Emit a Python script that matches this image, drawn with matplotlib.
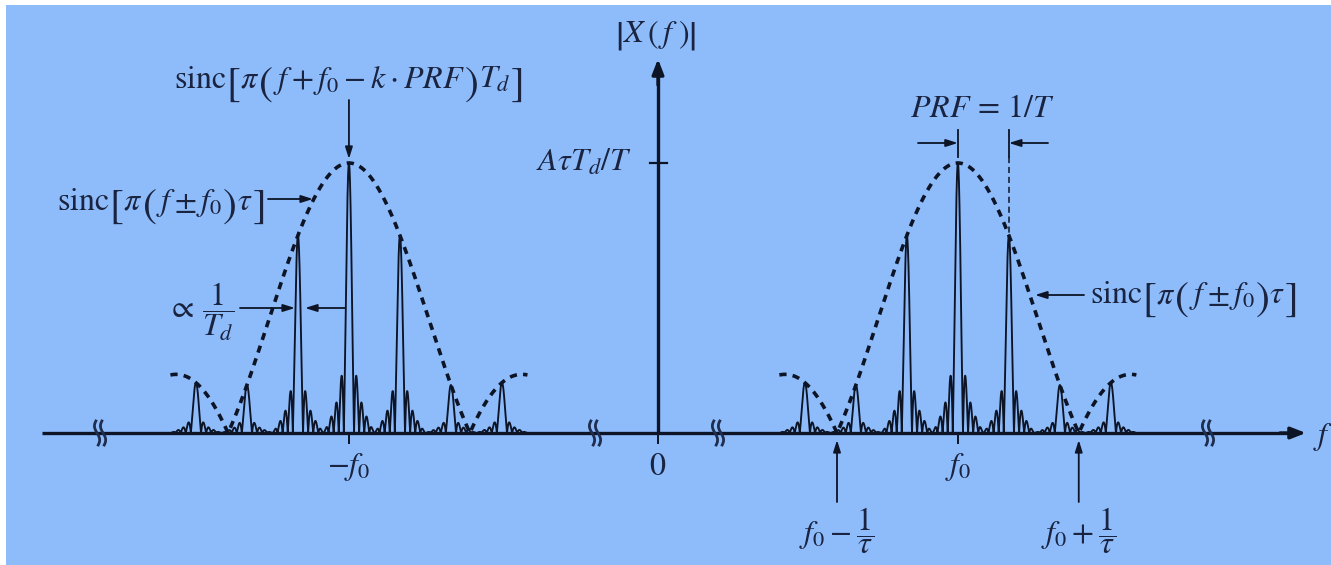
import numpy as np
import matplotlib
matplotlib.use("Agg")
import matplotlib.pyplot as plt
from matplotlib.transforms import offset_copy

plt.rcParams['mathtext.fontset'] = 'stix'
plt.rcParams['font.family'] = ['STIXGeneral', 'Liberation Serif', 'DejaVu Serif']

# ---------------- data (frequency in PRF units, amplitude normalised to A*tau*Td/T) -------------
PRF = 1.0
cluster_centers = [-6.06, 5.88]          # -f0 and +f0
line_orders = [-3, -2, -1, 0, 1, 2, 3]   # k
inv_tau = 2.37                           # 1/tau (first null of envelope)
Td = 10.0                                # dwell time (line width ~ 1/Td)
env_half_span = 3.5                      # extent of the drawn envelope around +-f0
peak_value = 1.0                         # A tau Td / T
axis_breaks = [-10.94, -1.235, 1.176, 10.784]
tick_positions = [-6.06, 0.0, 5.88]
tick_labels = [r'$-f_0$', r'$0$', r'$f_0$']

# ---------------- styling ----------------
BG = '#8ebcfb'
INK = '#0c1426'
TXT = '#1a2440'
FS = 23
BIG = 30
DPI = 100

# pixel <-> data helpers for layout (1 PRF = 51 px, peak = 270 px, origin at (658, 433))
X0, Y0, SX, SY = 658.0, 433.0, 51.0, 270.0
def px(x):
    return (x - X0) / SX
def py(y):
    return (Y0 - y) / SY

fig = plt.figure(figsize=(13.31, 5.65), dpi=DPI)
fig.patch.set_facecolor('white')
ax = fig.add_axes([6 / 1331, 0, 1325 / 1331, 560 / 565])
ax.set_facecolor(BG)
ax.set_xlim(px(6), px(1331))
ax.set_ylim(py(565), py(5))
for s in ax.spines.values():
    s.set_visible(False)
ax.set_xticks([])
ax.set_yticks([])
renderer = fig.canvas.get_renderer()


def rich(x, y, pieces, ha='center'):
    """Lay out pieces (text, size, is_delim) left to right on a common baseline."""
    texts, widths = [], []
    for s, size, delim in pieces:
        t = ax.text(x, y, s, fontsize=size, ha='left', va='baseline', color=TXT)
        w = t.get_window_extent(renderer).width
        texts.append((t, size, delim))
        widths.append(w)
    total = sum(widths)
    cum = {'center': -total / 2, 'left': 0.0, 'right': -total}[ha]
    for (t, size, delim), w in zip(texts, widths):
        dy = -(0.25 * size - 0.1 * FS) if delim else 0.0
        t.set_transform(offset_copy(ax.transData, fig=fig, x=cum * 72 / DPI, y=dy,
                                    units='points'))
        cum += w


def envelope(f, fc):
    return peak_value * np.abs(np.sinc((f - fc) / inv_tau))


# ---------------- spectra ----------------
for fc in cluster_centers:
    f = np.linspace(fc - env_half_span, fc + env_half_span, 12000)
    spec = np.zeros_like(f)
    for k in line_orders:
        fk = fc + k * PRF
        d = np.abs(f - fk)
        taper = np.clip(1 - (d / (0.5 * PRF)) ** 3, 0, 1)
        shape = envelope(fk, fc) * np.abs(np.sinc((f - fk) * Td)) * taper
        spec = np.maximum(spec, shape)
    ax.plot(f, spec, color=INK, lw=1.35, zorder=3)
    ax.plot(f, envelope(f, fc), color=INK, lw=2.6,
            linestyle=(0, (2.0, 1.7)), zorder=4)

# ---------------- axes ----------------
ax.plot([px(42), px(1290)], [0, 0], color=INK, lw=2.4, zorder=5, solid_capstyle='butt')
ax.annotate('', xy=(px(1306), 0), xytext=(px(1280), 0),
            arrowprops=dict(arrowstyle='-|>,head_length=0.9,head_width=0.35',
                            color=INK, lw=2.4, shrinkA=0, shrinkB=0), zorder=6)
ax.plot([0, 0], [0, py(75)], color=INK, lw=2.4, zorder=5, solid_capstyle='butt')
ax.annotate('', xy=(0, py(59)), xytext=(0, py(85)),
            arrowprops=dict(arrowstyle='-|>,head_length=0.9,head_width=0.35',
                            color=INK, lw=2.4, shrinkA=0, shrinkB=0), zorder=6)

# axis breaks
t = np.linspace(-1, 1, 40)
for xb in axis_breaks:
    for off in (-3.0, 3.0):
        xs = xb + (off + 2.6 * np.sin(np.pi * t * 0.85)) / SX
        ys = -t * 12 / SY
        ax.plot(xs, ys, color='#1f2d4e', lw=2.0, zorder=6)

# ticks under axis
for xt, lab in zip(tick_positions, tick_labels):
    ax.plot([xt, xt], [0, py(443)], color=INK, lw=1.4, zorder=5)
    ax.text(xt, py(467), lab, ha='center', va='center', fontsize=FS, color=TXT)

# peak tick on vertical axis
ax.plot([px(650), px(667)], [peak_value, peak_value], color=INK, lw=1.6, zorder=5)
ax.text(px(632), peak_value, r'$A\tau T_d/T$', ha='right', va='center', fontsize=FS, color=TXT)
rich(px(656), py(42), [('|', BIG, True), (r'$X$', FS, False), ('(', FS, False),
                       (r'$f$', FS, False), (')', FS, False), ('|', BIG, True)])
ax.text(px(1313), py(437), r'$f$', ha='left', va='center', fontsize=FS, color=TXT)

arrow_kw = dict(arrowstyle='-|>,head_length=0.7,head_width=0.22', color=INK, lw=1.3,
                shrinkA=0, shrinkB=0)

# top-left label and arrow
lc = cluster_centers[0]
rich(lc, py(88), [(r'$\mathrm{sinc}$', FS, False), ('[', BIG, True), (r'$\pi$', FS, False),
                  ('(', BIG, True), (r'$f+f_0-k\cdot PRF$', FS, False), (')', BIG, True),
                  (r'$T_d$', FS, False), (']', BIG, True)])
ax.annotate('', xy=(lc, py(159)), xytext=(lc, py(100)), arrowprops=arrow_kw)

# left envelope label
env_label = [(r'$\mathrm{sinc}$', FS, False), ('[', BIG, True), (r'$\pi$', FS, False),
             ('(', BIG, True), (r'$f\pm f_0$', FS, False), (')', BIG, True),
             (r'$\tau$', FS, False), (']', BIG, True)]
rich(px(266), py(210), env_label, ha='right')
ax.annotate('', xy=(px(313), py(199)), xytext=(px(268), py(199)), arrowprops=arrow_kw)

# 1/Td width marker
ax.text(px(234), py(312), r'$\propto\,\dfrac{1}{T_d}$', ha='right', va='center',
        fontsize=FS, color=TXT)
ax.annotate('', xy=(px(295), py(308)), xytext=(px(240), py(308)), arrowprops=arrow_kw)
ax.annotate('', xy=(px(305), py(308)), xytext=(px(345), py(308)), arrowprops=arrow_kw)

# right envelope label
rc = cluster_centers[1]
rich(px(1090), py(303), env_label, ha='left')
ax.annotate('', xy=(px(1035), py(295)), xytext=(px(1084), py(295)), arrowprops=arrow_kw)

# PRF marker
ax.text(px(982), py(117), r'$PRF\,=\,1/T$', ha='center', va='baseline', fontsize=FS, color=TXT)
ax.plot([rc, rc], [py(130), py(157)], color=INK, lw=1.3)
ax.plot([rc + PRF, rc + PRF], [py(130), py(157)], color=INK, lw=1.3)
ax.annotate('', xy=(rc, py(143)), xytext=(px(918), py(143)), arrowprops=arrow_kw)
ax.annotate('', xy=(rc + PRF, py(143)), xytext=(px(1048), py(143)), arrowprops=arrow_kw)
ax.plot([rc + PRF, rc + PRF], [py(157), envelope(rc + PRF, rc)], color=INK, lw=1.1,
        linestyle=(0, (4, 2.5)))

# null markers
for sgn, lab in ((-1, r'$f_0-\dfrac{1}{\tau}$'), (1, r'$f_0+\dfrac{1}{\tau}$')):
    xn = rc + sgn * inv_tau
    ax.annotate('', xy=(xn, py(440)), xytext=(xn, py(502)), arrowprops=arrow_kw)
    ax.text(xn, py(531), lab, ha='center', va='center', fontsize=FS, color=TXT)

fig.savefig('out.png', dpi=DPI, facecolor=fig.get_facecolor())
